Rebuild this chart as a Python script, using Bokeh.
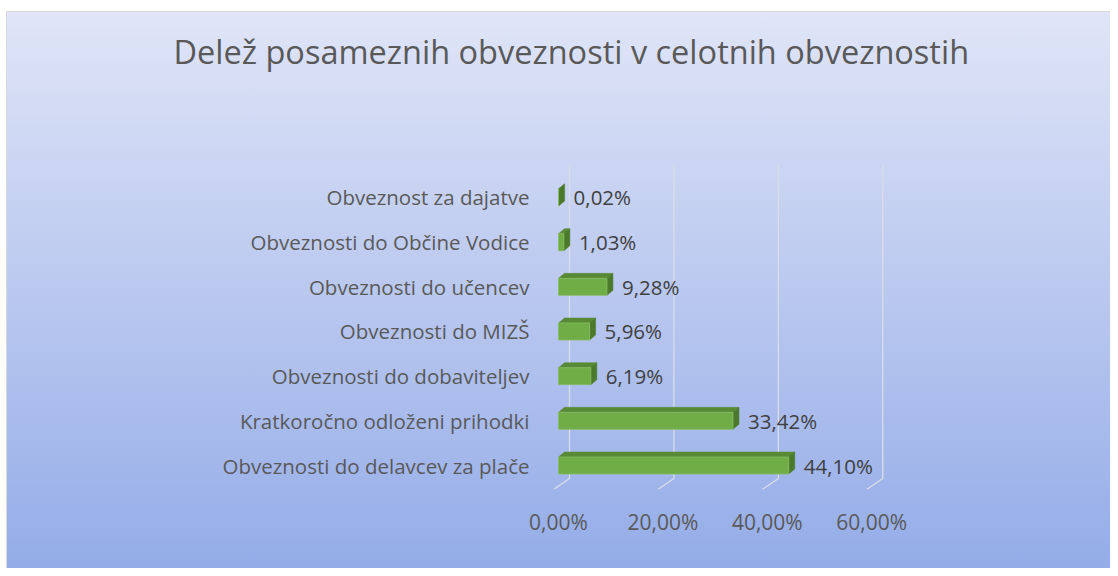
from bokeh.plotting import figure
from bokeh.models import Range1d, FixedTicker, CustomJSTickFormatter, ColumnDataSource
from bokeh.core.properties import value
from bokeh.embed import file_html
from bokeh.resources import INLINE

# ---- data (bottom to top) ----
categories = [
    "Obveznosti do delavcev za plače",
    "Kratkoročno odloženi prihodki",
    "Obveznosti do dobaviteljev",
    "Obveznosti do MIZŠ",
    "Obveznosti do učencev",
    "Obveznosti do Občine Vodice",
    "Obveznost za dajatve",
]
shares = [44.10, 33.42, 6.19, 5.96, 9.28, 1.03, 0.02]
x_ticks = [0, 20, 40, 60]
title_text = "Delež posameznih obveznosti v celotnih obveznostih"

FONT = "Open Sans"
W, H = 1110, 568
PX_X = 5.217          # px per percent
PX_Y = 44.67          # px per category
mb_left = 552
mb_top = 165
x_start = -(558 - mb_left) / PX_X
x_end = 68.0
y_end = 6 + (197 - mb_top) / PX_Y
y_start = -24 / PX_Y

frame_w = (x_end - x_start) * PX_X
frame_h = (y_end - y_start) * PX_Y
mb_right = int(round(W - mb_left - frame_w))
mb_bottom = int(round(H - mb_top - frame_h))

p = figure(width=W, height=H, output_backend="svg", toolbar_location=None,
           x_range=Range1d(x_start, x_end), y_range=Range1d(y_start, y_end),
           min_border_left=mb_left, min_border_top=mb_top,
           min_border_right=mb_right, min_border_bottom=mb_bottom)
p.background_fill_color = None
p.border_fill_color = None
p.outline_line_color = None
p.grid.visible = False
p.styles = {
    "background": (
        "linear-gradient(to right, #ffffff 0px, #ffffff 6px, #d9d9d9 6px, #d9d9d9 7px, transparent 7px) "
        "0px 11px / 100% 100% no-repeat, "
        "linear-gradient(to bottom, #ffffff 0px, #ffffff 11px, #d9d9d9 11px, #d9d9d9 12px, "
        "#e0e5f7 12px, #94acE8 100%)"
    )
}

# title: left-aligned, shifted left so it is centred on the whole chart;
# two blank lines below it keep it high above the plot area
p.title.text = title_text + "\n \n "
p.title.align = "left"
p.title.vertical_align = "top"
p.title.offset = 173 - mb_left
p.title.standoff = 0
p.title.text_font = FONT
p.title.text_font_size = "32.5px"
p.title.text_font_style = "normal"
p.title.text_color = "#595959"

# 3D depth (style constants, px -> data)
grid_back = 11 / PX_X
floor_front = 5 / PX_X
floor_back_y = -13 / PX_Y
bar_h = 17 / PX_Y
dx = 6 / PX_X
dy = 5 / PX_Y

# gridlines + floor
for t in x_ticks:
    p.line([t + grid_back, t + grid_back, t - floor_front],
           [y_end, floor_back_y, y_start], line_color="#dadde6", line_width=1.3)

ys = list(range(len(categories)))
src = ColumnDataSource(dict(y=ys, v=shares,
                            lbl=[f"{s:.2f}".replace(".", ",") + "%" for s in shares]))

# top faces
top_xs = [[0, v, v + dx, dx] for v in shares]
top_ys = [[y + bar_h / 2, y + bar_h / 2, y + bar_h / 2 + dy, y + bar_h / 2 + dy] for y in ys]
p.patches(top_xs, top_ys, fill_color="#588a36", line_color="#588a36", line_width=0.5)
# side faces
side_xs = [[v, v + dx, v + dx, v] for v in shares]
side_ys = [[y - bar_h / 2, y - bar_h / 2 + dy, y + bar_h / 2 + dy, y + bar_h / 2] for y in ys]
p.patches(side_xs, side_ys, fill_color="#4b7a2c", line_color="#4b7a2c", line_width=0.5)
# front faces
p.hbar(y="y", left=0, right="v", height=bar_h, source=src,
       fill_color="#70ad47", line_color="#86bd62", line_width=0.8)

p.text(x="v", y="y", text="lbl", source=src, x_offset=15, text_align="left",
       text_baseline="middle", text_font=value(FONT), text_font_size="20.5px",
       text_color="#404040")

# axes
p.xaxis.ticker = FixedTicker(ticks=x_ticks)
p.xaxis.formatter = CustomJSTickFormatter(code="return tick.toFixed(2).replace('.', ',') + '%';")
p.xaxis.axis_line_color = None
p.xaxis.major_tick_line_color = None
p.xaxis.minor_tick_line_color = None
p.xaxis.major_label_standoff = 12
p.xaxis.major_label_text_font = FONT
p.xaxis.major_label_text_font_size = "21px"
p.xaxis.major_label_text_color = "#595959"

p.yaxis.ticker = FixedTicker(ticks=ys)
p.yaxis.major_label_overrides = {i: c for i, c in enumerate(categories)}
p.yaxis.axis_line_color = None
p.yaxis.major_tick_line_color = None
p.yaxis.minor_tick_line_color = None
p.yaxis.major_label_standoff = 17
p.yaxis.major_label_text_font = FONT
p.yaxis.major_label_text_font_size = "20.5px"
p.yaxis.major_label_text_color = "#595959"

open("out.html", "w").write(file_html(p, INLINE))
